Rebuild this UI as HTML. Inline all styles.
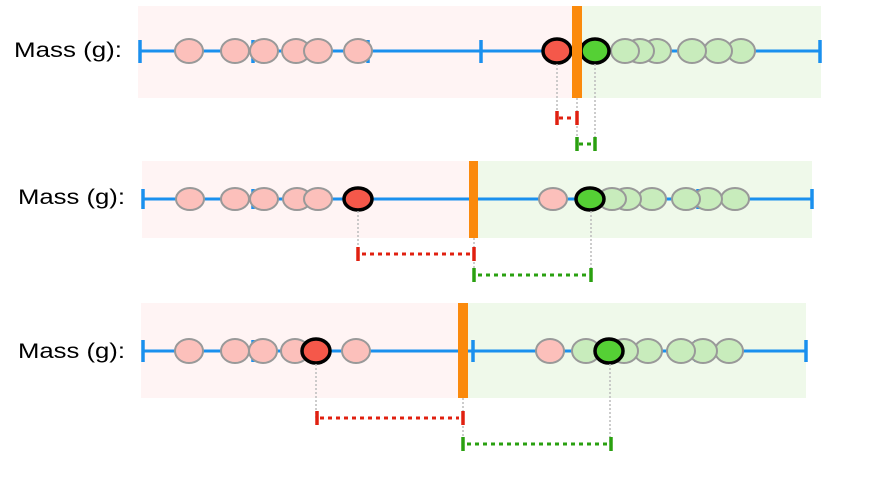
<!DOCTYPE html>
<html><head><meta charset="utf-8"><style>
html,body{margin:0;padding:0;background:#fff;width:876px;height:500px;overflow:hidden}
text{font-family:"Liberation Sans",sans-serif;font-size:21px;fill:#000}
.p{fill:#fcc0bb;stroke:#999;stroke-width:2}
.g{fill:#c8ecbc;stroke:#999;stroke-width:2}
.R{fill:#f5584a;stroke:#000;stroke-width:3.5}
.G{fill:#55d035;stroke:#000;stroke-width:3.5}
.ax{stroke:#1a90ee;stroke-width:3}
.tk{stroke:#1a90ee;stroke-width:3.5}
.vd{stroke:#bbb;stroke-width:1.5;stroke-dasharray:2 2}
.rd{stroke:#e02010;stroke-width:3;stroke-dasharray:4 4}
.gd{stroke:#2aa010;stroke-width:3;stroke-dasharray:4 4}
.re{stroke:#e02010;stroke-width:3.5}
.ge{stroke:#2aa010;stroke-width:3.5}
</style></head><body>
<svg width="876" height="500" xmlns="http://www.w3.org/2000/svg">
<!-- Panel 1 -->
<text x="14" y="57" textLength="108" lengthAdjust="spacingAndGlyphs">Mass (g):</text>
<rect x="138" y="6" width="438" height="92" fill="#fff4f4"/>
<rect x="576" y="6" width="245" height="92" fill="#eff9ea"/>
<line class="ax" x1="140" y1="51" x2="820" y2="51"/>
<line class="tk" x1="140" y1="40" x2="140" y2="63"/><line class="tk" x1="820" y1="40" x2="820" y2="63"/>
<line class="tk" x1="481" y1="40" x2="481" y2="63"/><line class="tk" x1="253" y1="40" x2="253" y2="63"/><line class="tk" x1="368" y1="40" x2="368" y2="63"/>
<ellipse class="p" cx="189" cy="51" rx="14" ry="12"/><ellipse class="p" cx="235" cy="51" rx="14" ry="12"/><ellipse class="p" cx="264" cy="51" rx="14" ry="12"/><ellipse class="p" cx="296" cy="51" rx="14" ry="12"/><ellipse class="p" cx="318" cy="51" rx="14" ry="12"/><ellipse class="p" cx="358" cy="51" rx="14" ry="12"/>
<ellipse class="g" cx="741" cy="51" rx="14" ry="12"/><ellipse class="g" cx="718" cy="51" rx="14" ry="12"/><ellipse class="g" cx="692" cy="51" rx="14" ry="12"/><ellipse class="g" cx="657" cy="51" rx="14" ry="12"/><ellipse class="g" cx="640" cy="51" rx="14" ry="12"/><ellipse class="g" cx="625" cy="51" rx="14" ry="12"/>
<ellipse class="R" cx="557" cy="51" rx="14" ry="12"/><ellipse class="G" cx="595" cy="51" rx="14" ry="12"/>
<rect x="572" y="6" width="10" height="92" fill="#fb8a0c"/>
<line class="vd" x1="557" y1="64" x2="557" y2="118"/><line class="vd" x1="577" y1="98" x2="577" y2="144"/><line class="vd" x1="595" y1="64" x2="595" y2="144"/>
<line class="rd" x1="559" y1="118" x2="575" y2="118"/><line class="re" x1="557" y1="111" x2="557" y2="125"/><line class="re" x1="577" y1="111" x2="577" y2="125"/>
<line class="gd" x1="579" y1="144" x2="593" y2="144"/><line class="ge" x1="577" y1="137" x2="577" y2="151"/><line class="ge" x1="595" y1="137" x2="595" y2="151"/>
<!-- Panel 2 -->
<text x="18" y="204" textLength="107" lengthAdjust="spacingAndGlyphs">Mass (g):</text>
<rect x="142" y="161" width="332" height="77" fill="#fff4f4"/>
<rect x="474" y="161" width="338" height="77" fill="#eff9ea"/>
<line class="ax" x1="143" y1="199" x2="812" y2="199"/>
<line class="tk" x1="143" y1="189" x2="143" y2="209"/><line class="tk" x1="812" y1="189" x2="812" y2="209"/><line class="tk" x1="253" y1="189" x2="253" y2="209"/><line class="tk" x1="698" y1="189" x2="698" y2="209"/>
<ellipse class="p" cx="190" cy="199" rx="14" ry="11"/><ellipse class="p" cx="235" cy="199" rx="14" ry="11"/><ellipse class="p" cx="264" cy="199" rx="14" ry="11"/><ellipse class="p" cx="297" cy="199" rx="14" ry="11"/><ellipse class="p" cx="318" cy="199" rx="14" ry="11"/>
<ellipse class="p" cx="553" cy="199" rx="14" ry="11"/>
<ellipse class="g" cx="735" cy="199" rx="14" ry="11"/><ellipse class="g" cx="708" cy="199" rx="14" ry="11"/><ellipse class="g" cx="686" cy="199" rx="14" ry="11"/><ellipse class="g" cx="652" cy="199" rx="14" ry="11"/><ellipse class="g" cx="627" cy="199" rx="14" ry="11"/><ellipse class="g" cx="612" cy="199" rx="14" ry="11"/>
<ellipse class="R" cx="358" cy="199" rx="14" ry="11"/><ellipse class="G" cx="590" cy="199" rx="14" ry="11"/>
<rect x="469" y="161" width="9" height="77" fill="#fb8a0c"/>
<line class="vd" x1="358" y1="211" x2="358" y2="254"/><line class="vd" x1="474" y1="238" x2="474" y2="275"/><line class="vd" x1="591" y1="211" x2="591" y2="275"/>
<line class="rd" x1="362" y1="254" x2="470" y2="254"/><line class="re" x1="358" y1="247" x2="358" y2="261"/><line class="re" x1="474" y1="247" x2="474" y2="261"/>
<line class="gd" x1="478" y1="275" x2="587" y2="275"/><line class="ge" x1="474" y1="268" x2="474" y2="282"/><line class="ge" x1="591" y1="268" x2="591" y2="282"/>
<!-- Panel 3 -->
<text x="18" y="358" textLength="107" lengthAdjust="spacingAndGlyphs">Mass (g):</text>
<rect x="141" y="303" width="322" height="95" fill="#fff4f4"/>
<rect x="463" y="303" width="343" height="95" fill="#eff9ea"/>
<line class="ax" x1="143" y1="351" x2="806" y2="351"/>
<line class="tk" x1="143" y1="340" x2="143" y2="362"/><line class="tk" x1="806" y1="340" x2="806" y2="362"/><line class="tk" x1="473" y1="340" x2="473" y2="362"/><line class="tk" x1="253" y1="340" x2="253" y2="362"/><line class="tk" x1="696" y1="340" x2="696" y2="362"/>
<ellipse class="p" cx="189" cy="351" rx="14" ry="12"/><ellipse class="p" cx="235" cy="351" rx="14" ry="12"/><ellipse class="p" cx="263" cy="351" rx="14" ry="12"/><ellipse class="p" cx="295" cy="351" rx="14" ry="12"/><ellipse class="p" cx="356" cy="351" rx="14" ry="12"/>
<ellipse class="p" cx="550" cy="351" rx="14" ry="12"/>
<ellipse class="g" cx="729" cy="351" rx="14" ry="12"/><ellipse class="g" cx="703" cy="351" rx="14" ry="12"/><ellipse class="g" cx="681" cy="351" rx="14" ry="12"/><ellipse class="g" cx="648" cy="351" rx="14" ry="12"/><ellipse class="g" cx="624" cy="351" rx="14" ry="12"/><ellipse class="g" cx="586" cy="351" rx="14" ry="12"/>
<ellipse class="R" cx="316" cy="351" rx="14" ry="12"/><ellipse class="G" cx="609" cy="351" rx="14" ry="12"/>
<rect x="458" y="303" width="10" height="95" fill="#fb8a0c"/>
<line class="vd" x1="316" y1="364" x2="316" y2="418"/><line class="vd" x1="463" y1="398" x2="463" y2="444"/><line class="vd" x1="610" y1="364" x2="610" y2="444"/>
<line class="rd" x1="320" y1="418" x2="459" y2="418"/><line class="re" x1="317" y1="411" x2="317" y2="425"/><line class="re" x1="463" y1="411" x2="463" y2="425"/>
<line class="gd" x1="467" y1="444" x2="607" y2="444"/><line class="ge" x1="463" y1="437" x2="463" y2="451"/><line class="ge" x1="611" y1="437" x2="611" y2="451"/>
</svg>
</body></html>
